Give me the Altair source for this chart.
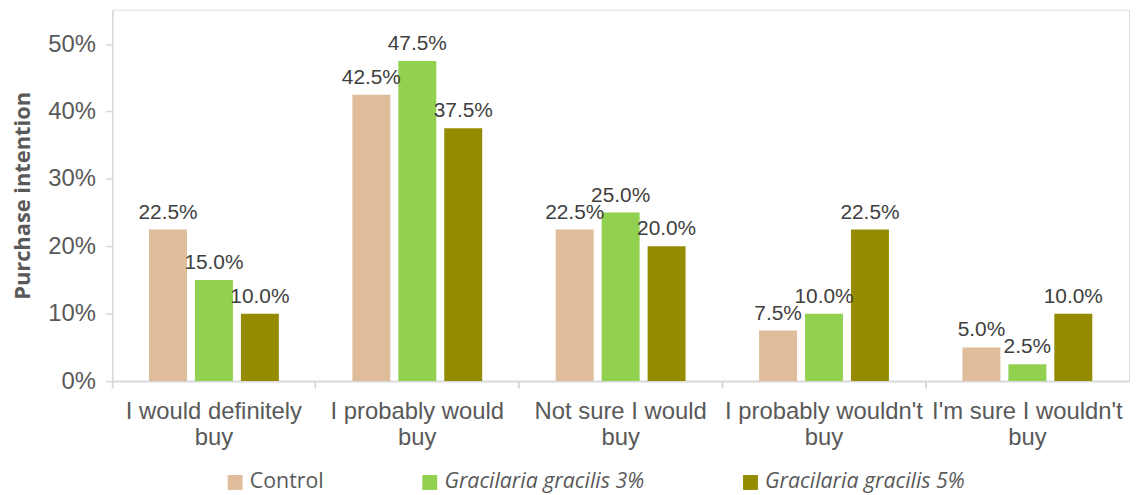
import altair as alt
import pandas as pd

categories = ["I would definitely buy", "I probably would buy", "Not sure I would buy",
              "I probably wouldn't buy", "I'm sure I wouldn't buy"]
groups = ["Control", "Gracilaria gracilis 3%", "Gracilaria gracilis 5%"]
control = [0.225, 0.425, 0.225, 0.075, 0.050]
gracilis_3 = [0.150, 0.475, 0.250, 0.100, 0.025]
gracilis_5 = [0.100, 0.375, 0.200, 0.225, 0.100]
colors = ["#DFBD9B", "#92D050", "#948B00"]
y_ticks = [0, 0.1, 0.2, 0.3, 0.4, 0.5]

rows = []
for g, vals in zip(groups, [control, gracilis_3, gracilis_5]):
    for c, v in zip(categories, vals):
        rows.append({"category": c, "group": g, "value": v})
df = pd.DataFrame(rows)

GRAY = "#D9D9D9"
LABEL = "#595959"

x_enc = alt.X(
    "category:N", sort=categories,
    scale=alt.Scale(paddingInner=0, paddingOuter=0),
    axis=alt.Axis(
        title=None, labelAngle=0, labelFont="Liberation Sans", labelFontSize=24,
        labelColor=LABEL, labelLineHeight=26, labelPadding=12, labelLimit=0,
        labelExpr="[substring(datum.label, 0, lastindexof(datum.label, ' ')), "
                  "substring(datum.label, lastindexof(datum.label, ' ') + 1)]",
        domainColor=GRAY, domainWidth=2, tickColor=GRAY, tickWidth=2, tickSize=7,
        bandPosition=0, grid=False,
    ),
)
xo_enc = alt.XOffset("group:N", sort=groups,
                     scale=alt.Scale(paddingInner=0.174, paddingOuter=0.8))
y_enc = alt.Y(
    "value:Q",
    scale=alt.Scale(domain=[0, 0.551], nice=False, zero=True),
    axis=alt.Axis(
        title="Purchase intention", values=y_ticks, format=".0%",
        labelFont="Liberation Sans", labelFontSize=24, labelColor=LABEL, labelPadding=10,
        titleFont="Open Sans", titleFontSize=22, titleFontWeight="bold", titleColor=LABEL,
        titleAngle=270, titleX=-90, titleY=187, titleAlign="center", titleBaseline="middle",
        domainColor=GRAY, domainWidth=1.5, tickColor=GRAY, tickWidth=1.5, tickSize=7,
        grid=False,
    ),
)

base = alt.Chart(df)

bars = base.mark_bar().encode(
    x=x_enc, xOffset=xo_enc, y=y_enc,
    color=alt.Color(
        "group:N", sort=groups,
        scale=alt.Scale(domain=groups, range=colors),
        legend=alt.Legend(
            title=None, orient="none", legendX=113, legendY=465, direction="horizontal",
            columns=3, columnPadding=96, symbolType="square", symbolSize=225,
            symbolStrokeWidth=0, symbolOpacity=1, labelFont="Open Sans", labelFontSize=21.5,
            labelColor=LABEL, labelOffset=4, labelLimit=0,
            labelFontStyle=alt.ExprRef("datum.label == 'Control' ? 'normal' : 'italic'"),
        ),
    ),
)

labels = base.mark_text(
    baseline="alphabetic", dy=-11, font="Liberation Sans", fontSize=21, color="#404040"
).encode(
    x=x_enc, xOffset=xo_enc, y=y_enc,
    text=alt.Text("value:Q", format=".1%"),
)

chart = alt.layer(bars, labels).properties(
    width=1024, height=374,
    autosize=alt.AutoSizeParams(type="none"),
    padding={"left": 105, "top": 0, "right": 5, "bottom": 113},
).configure_view(stroke=GRAY, strokeWidth=2).configure(background="white")

chart.save("out.html", embed_options={"renderer": "svg", "actions": False})
